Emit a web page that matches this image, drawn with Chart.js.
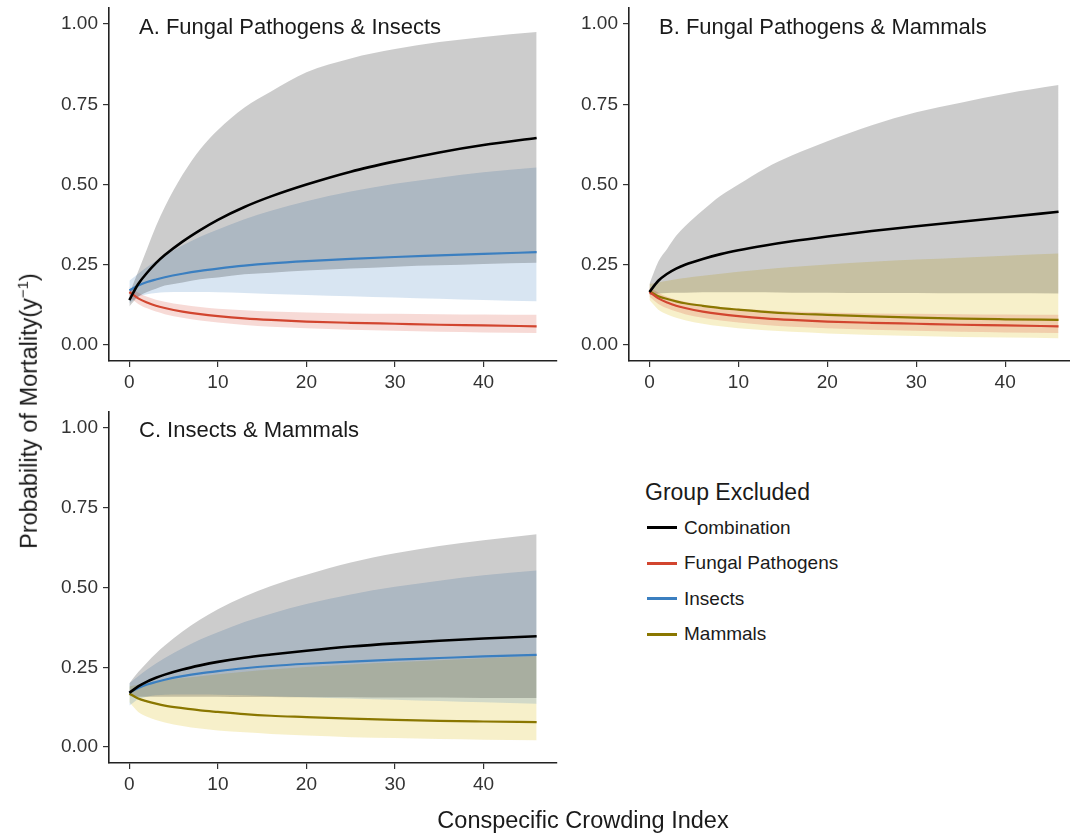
<!DOCTYPE html>
<html>
<head>
<meta charset="utf-8">
<script src="https://cdn.jsdelivr.net/npm/chart.js@4.4.0/dist/chart.umd.min.js"></script>
<style>
  html, body { margin: 0; padding: 0; background: #fff; overflow: hidden; }
  body { width: 1070px; height: 838px; position: relative; font-family: "Liberation Sans", Arial, sans-serif; color: #1a1a1a; }
  .panel { position: absolute; }
  .panel canvas { display: block; }
  .ptitle { position: absolute; font-size: 22px; line-height: 1; white-space: nowrap; }
  .axtitle { position: absolute; font-size: 23.5px; line-height: 1; white-space: nowrap; }
  #ytitle { transform: translate(-50%, -50%) rotate(-90deg); }
  #ytitle sup { font-size: 15px; }
  #legend { position: absolute; left: 645px; top: 481px; }
  #legend .lhead { font-size: 23px; line-height: 1; margin-bottom: 6px; }
  #legend .row { height: 35.5px; display: flex; align-items: center; font-size: 19px; }
  #legend .key { width: 30px; height: 2.6px; margin-left: 2px; margin-right: 7px; }
</style>
</head>
<body>

<div class="panel" style="left:0;top:0;width:560px;height:400px"><canvas id="panelA" width="560" height="400"></canvas></div>
<div class="panel" style="left:560px;top:0;width:520px;height:400px"><canvas id="panelB" width="520" height="400"></canvas></div>
<div class="panel" style="left:0;top:400px;width:560px;height:438px"><canvas id="panelC" width="560" height="438"></canvas></div>

<div class="ptitle" style="left:139px;top:16px">A. Fungal Pathogens &amp; Insects</div>
<div class="ptitle" style="left:659px;top:16px">B. Fungal Pathogens &amp; Mammals</div>
<div class="ptitle" style="left:139px;top:419px">C. Insects &amp; Mammals</div>

<div class="axtitle" id="ytitle" style="left:28px;top:411px">Probability of Mortality(y<sup>−1</sup>)</div>
<div class="axtitle" id="xtitle" style="left:583px;top:809px;transform:translateX(-50%)">Conspecific Crowding Index</div>

<div id="legend"></div>

<script>
// Conspecific crowding index values where the fitted curves were read
const crowding = [0, 1, 2, 3, 4, 6, 8, 10, 13, 16, 20, 25, 30, 35, 40, 46];

const xTicks = [0, 10, 20, 30, 40];
const yTicks = [0, 0.25, 0.5, 0.75, 1];

// Combination exclusion, one fit per panel (mean, lower, upper)
const comboA     = [0.14, 0.19, 0.225, 0.255, 0.28, 0.322, 0.358, 0.39, 0.43, 0.463, 0.50, 0.54, 0.572, 0.60, 0.623, 0.645];
const comboALow  = [0.12, 0.15, 0.165, 0.175, 0.185, 0.195, 0.205, 0.21, 0.22, 0.225, 0.232, 0.238, 0.244, 0.248, 0.252, 0.256];
const comboAHigh = [0.16, 0.23, 0.30, 0.37, 0.43, 0.53, 0.61, 0.67, 0.74, 0.79, 0.85, 0.893, 0.922, 0.944, 0.96, 0.975];

const comboB     = [0.165, 0.20, 0.222, 0.238, 0.25, 0.268, 0.283, 0.295, 0.31, 0.323, 0.338, 0.355, 0.37, 0.384, 0.398, 0.415];
const comboBLow  = [0.155, 0.16, 0.162, 0.163, 0.163, 0.164, 0.164, 0.164, 0.164, 0.163, 0.163, 0.162, 0.162, 0.161, 0.161, 0.16];
const comboBHigh = [0.19, 0.26, 0.30, 0.34, 0.37, 0.42, 0.465, 0.50, 0.55, 0.59, 0.635, 0.685, 0.725, 0.755, 0.783, 0.81];

const comboC     = [0.17, 0.19, 0.205, 0.217, 0.227, 0.243, 0.256, 0.267, 0.28, 0.29, 0.302, 0.315, 0.325, 0.333, 0.34, 0.347];
const comboCLow  = [0.16, 0.158, 0.158, 0.158, 0.158, 0.158, 0.158, 0.158, 0.157, 0.157, 0.156, 0.156, 0.155, 0.155, 0.154, 0.154];
const comboCHigh = [0.20, 0.235, 0.265, 0.293, 0.318, 0.362, 0.40, 0.432, 0.472, 0.505, 0.54, 0.578, 0.607, 0.63, 0.648, 0.667];

// Single-group exclusions
const fungal     = [0.165, 0.145, 0.132, 0.122, 0.115, 0.104, 0.096, 0.09, 0.083, 0.078, 0.073, 0.069, 0.066, 0.063, 0.061, 0.058];
const fungalLow  = [0.15, 0.128, 0.114, 0.104, 0.096, 0.085, 0.076, 0.07, 0.062, 0.057, 0.052, 0.047, 0.044, 0.041, 0.039, 0.037];
const fungalHigh = [0.18, 0.163, 0.15, 0.141, 0.135, 0.125, 0.118, 0.113, 0.108, 0.104, 0.101, 0.098, 0.097, 0.096, 0.095, 0.094];

const insects     = [0.17, 0.185, 0.196, 0.204, 0.211, 0.222, 0.231, 0.238, 0.247, 0.254, 0.261, 0.268, 0.274, 0.279, 0.284, 0.289];
const insectsLow  = [0.13, 0.15, 0.158, 0.162, 0.164, 0.165, 0.165, 0.164, 0.162, 0.159, 0.156, 0.152, 0.148, 0.144, 0.14, 0.136];
const insectsHigh = [0.20, 0.222, 0.243, 0.262, 0.279, 0.31, 0.337, 0.36, 0.392, 0.418, 0.448, 0.478, 0.502, 0.521, 0.538, 0.553];

const mammals     = [0.168, 0.152, 0.143, 0.136, 0.13, 0.122, 0.115, 0.11, 0.103, 0.098, 0.094, 0.089, 0.085, 0.082, 0.08, 0.078];
const mammalsLow  = [0.14, 0.11, 0.095, 0.085, 0.077, 0.066, 0.058, 0.052, 0.046, 0.041, 0.036, 0.031, 0.028, 0.025, 0.023, 0.021];
const mammalsHigh = [0.19, 0.195, 0.20, 0.205, 0.209, 0.216, 0.222, 0.228, 0.236, 0.243, 0.251, 0.259, 0.266, 0.272, 0.278, 0.285];

const groupNames = ['Combination', 'Fungal Pathogens', 'Insects', 'Mammals'];
const lineColors = ['#000000', '#d2452f', '#3b7fc0', '#8a7700'];
const bandColors = ['rgba(0,0,0,0.2)', 'rgba(215,70,50,0.2)', 'rgba(60,125,190,0.2)', 'rgba(230,205,80,0.3)'];

const series = {
  fungal:  { idx: 1, mean: fungal,  low: fungalLow,  high: fungalHigh },
  insects: { idx: 2, mean: insects, low: insectsLow, high: insectsHigh },
  mammals: { idx: 3, mean: mammals, low: mammalsLow, high: mammalsHigh }
};

const pts = arr => crowding.map((x, i) => ({ x, y: arr[i] }));

function buildDatasets(combo, comboLow, comboHigh, groups) {
  // index 0 is painted last, so lines go first and the grey band sits above the coloured ones
  const lines = [{
    data: pts(combo), borderColor: lineColors[0], borderWidth: 2.6, fill: false
  }];
  groups.forEach(g => lines.push({
    data: pts(series[g].mean), borderColor: lineColors[series[g].idx], borderWidth: 2.2, fill: false
  }));

  const bands = [
    { data: pts(comboHigh), borderWidth: 0, fill: '+1', backgroundColor: bandColors[0] },
    { data: pts(comboLow), borderWidth: 0, fill: false }
  ];
  groups.forEach(g => {
    bands.push({ data: pts(series[g].high), borderWidth: 0, fill: '+1', backgroundColor: bandColors[series[g].idx] });
    bands.push({ data: pts(series[g].low), borderWidth: 0, fill: false });
  });
  return lines.concat(bands);
}

function makeScales(yWidth, xHeight) {
  const font = { family: 'Liberation Sans', size: 19 };
  const grid = { drawOnChartArea: false, color: '#333', lineWidth: 1.2, tickLength: 6 };
  const border = { color: '#222', width: 1.6 };
  return {
    x: {
      type: 'linear', min: -2.3, max: 48.3,
      grid, border,
      ticks: { color: '#333', font, padding: 4, maxRotation: 0, callback: v => String(v) },
      afterBuildTicks: s => { s.ticks = xTicks.map(v => ({ value: v })); },
      afterFit: s => { s.height = xHeight; s.paddingLeft = 0; s.paddingRight = 0; }
    },
    y: {
      type: 'linear', min: -0.05, max: 1.05,
      grid, border,
      ticks: { color: '#333', font, padding: 5, callback: v => Number(v).toFixed(2) },
      afterBuildTicks: s => { s.ticks = yTicks.map(v => ({ value: v })); },
      afterFit: s => { s.width = yWidth; s.paddingTop = 0; s.paddingBottom = 0; }
    }
  };
}

function drawPanel(id, datasets, pad, yWidth, xHeight) {
  new Chart(document.getElementById(id), {
    type: 'line',
    data: { datasets },
    options: {
      responsive: false,
      animation: false,
      events: [],
      elements: { point: { radius: 0 }, line: { cubicInterpolationMode: 'monotone' } },
      layout: { padding: pad },
      plugins: { legend: { display: false }, tooltip: { enabled: false } },
      scales: makeScales(yWidth, xHeight)
    }
  });
}

drawPanel('panelA', buildDatasets(comboA, comboALow, comboAHigh, ['fungal', 'insects']),
  { left: 0, top: 8, right: 3, bottom: 0 }, 109, 39);
drawPanel('panelB', buildDatasets(comboB, comboBLow, comboBHigh, ['fungal', 'mammals']),
  { left: 0, top: 8, right: 1, bottom: 0 }, 69, 39);
drawPanel('panelC', buildDatasets(comboC, comboCLow, comboCHigh, ['insects', 'mammals']),
  { left: 0, top: 12, right: 3, bottom: 0 }, 109, 75);

// legend
const legend = document.getElementById('legend');
legend.innerHTML = '<div class="lhead">Group Excluded</div>' + groupNames.map((name, i) =>
  `<div class="row"><span class="key" style="background:${lineColors[i]}"></span>${name}</div>`
).join('');
</script>
</body>
</html>
